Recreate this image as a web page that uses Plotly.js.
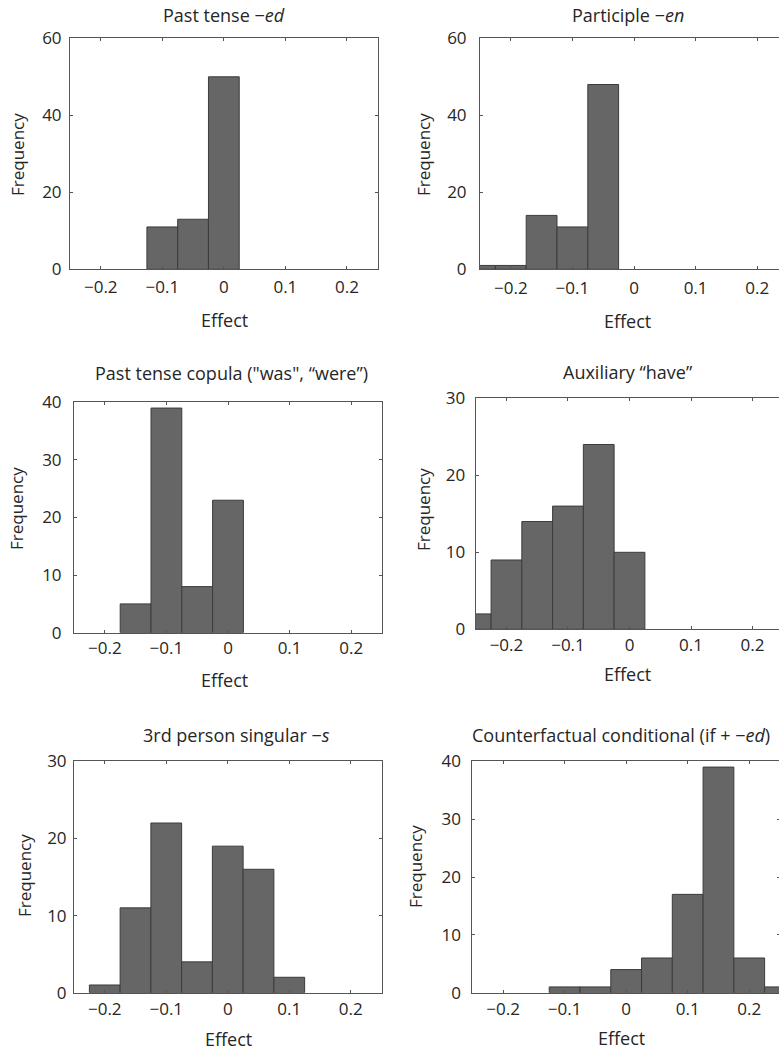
<!DOCTYPE html>
<html>
<head>
<meta charset="utf-8">
<script src="https://cdn.plot.ly/plotly-3.0.1.min.js"></script>
<style>
  html, body { margin: 0; padding: 0; overflow: hidden; background: #fff; }
  #chart { width: 790px; height: 1050px; }
</style>
</head>
<body>
<div id="chart"></div>
<script>
// ---- Data (bin centres of width 0.05, frequencies) ----
const pastTenseBins = [-0.1, -0.05, 0];
const pastTenseCounts = [11, 13, 50];

const participleBins = [-0.25, -0.2, -0.15, -0.1, -0.05];
const participleCounts = [1, 1, 14, 11, 48];

const copulaBins = [-0.15, -0.1, -0.05, 0];
const copulaCounts = [5, 39, 8, 23];

const auxHaveBins = [-0.25, -0.2, -0.15, -0.1, -0.05, 0];
const auxHaveCounts = [2, 9, 14, 16, 24, 10];

const thirdPersonBins = [-0.2, -0.15, -0.1, -0.05, 0, 0.05, 0.1];
const thirdPersonCounts = [1, 11, 22, 4, 19, 16, 2];

const counterfactualBins = [-0.1, -0.05, 0, 0.05, 0.1, 0.15, 0.2, 0.25];
const counterfactualCounts = [1, 1, 4, 6, 17, 39, 6, 1];

const panelTitles = [
  'Past tense −<i>ed</i>',
  'Participle −<i>en</i>',
  'Past tense copula ("was", “were”)',
  'Auxiliary “have”',
  '3rd person singular −<i>s</i>',
  'Counterfactual conditional (if + −<i>ed</i>)'
];
const yMax = [60, 60, 40, 30, 30, 40];
const yStep = [20, 20, 10, 10, 10, 10];
const xTickVals = [-0.2, -0.1, 0, 0.1, 0.2];

const series = [
  [pastTenseBins, pastTenseCounts],
  [participleBins, participleCounts],
  [copulaBins, copulaCounts],
  [auxHaveBins, auxHaveCounts],
  [thirdPersonBins, thirdPersonCounts],
  [counterfactualBins, counterfactualCounts]
];

// ---- Layout geometry (pixels) ----
const W = 790, H = 1050;
// [left, right, top, bottom]
const boxes = [
  [70, 377.7, 38.3, 269.3],
  [480, 788, 38.3, 269.3],
  [74, 382, 402.3, 632.7],
  [475.7, 783.3, 398.3, 629.3],
  [74, 381.5, 761.3, 992.7],
  [472.3, 780, 761.3, 992.7]
];
const yLabelGap = [4, 9, 8, 6, 3, 7];
const xLabelGap = [2, 3, 0, 0, 1, 1];
const titlePos = [[224, 15], [628, 15], [231, 373], [628, 372], [236, 735], [620.5, 735]];
const effectPos = [[224, 320], [627.5, 321], [224, 680], [627.5, 674], [228, 1039], [621.5, 1038]];
const freqPos = [[17, 155], [423, 155], [17, 509], [423, 510], [24, 876], [415, 867]];

const family = '"Open Sans", "Noto Sans", sans-serif';
const font = { family: family, size: 17, color: '#262626' };
const titleFont = { family: family, size: 18, color: '#262626' };
const axisColor = '#555555';

const data = [];
const layout = {
  width: W, height: H,
  margin: { l: 0, r: 0, t: 0, b: 0 },
  paper_bgcolor: '#ffffff',
  plot_bgcolor: '#ffffff',
  showlegend: false,
  font: font,
  annotations: []
};

series.forEach((s, i) => {
  const n = i === 0 ? '' : String(i + 1);
  data.push({
    type: 'bar',
    x: s[0], y: s[1],
    width: 0.05,
    xaxis: 'x' + n, yaxis: 'y' + n,
    marker: { color: '#666667', line: { color: '#3c3c3c', width: 1 } },
    hoverinfo: 'x+y'
  });
  const b = boxes[i];
  layout['xaxis' + n] = {
    domain: [b[0] / W, b[1] / W],
    anchor: 'y' + n,
    range: [-0.25, 0.25],
    tickmode: 'array', tickvals: xTickVals,
    ticks: 'inside', ticklen: 3, tickcolor: axisColor,
    ticklabelstandoff: xLabelGap[i],
    showline: true, linecolor: axisColor, linewidth: 1, mirror: 'ticks',
    showgrid: false, zeroline: false,
    tickfont: font, fixedrange: true
  };
  layout['yaxis' + n] = {
    domain: [1 - b[3] / H, 1 - b[2] / H],
    anchor: 'x' + n,
    range: [0, yMax[i]],
    dtick: yStep[i], tick0: 0,
    ticks: 'inside', ticklen: 3, tickcolor: axisColor,
    ticklabelstandoff: yLabelGap[i],
    showline: true, linecolor: axisColor, linewidth: 1, mirror: 'ticks',
    showgrid: false, zeroline: false,
    tickfont: font, fixedrange: true
  };
  layout.annotations.push({
    text: panelTitles[i], xref: 'paper', yref: 'paper',
    x: titlePos[i][0] / W, y: 1 - titlePos[i][1] / H,
    xanchor: 'center', yanchor: 'middle', showarrow: false, font: titleFont
  });
  layout.annotations.push({
    text: 'Effect', xref: 'paper', yref: 'paper',
    x: effectPos[i][0] / W, y: 1 - effectPos[i][1] / H,
    xanchor: 'center', yanchor: 'middle', showarrow: false, font: titleFont
  });
  layout.annotations.push({
    text: 'Frequency', xref: 'paper', yref: 'paper', textangle: -90,
    x: freqPos[i][0] / W, y: 1 - freqPos[i][1] / H,
    xanchor: 'center', yanchor: 'middle', showarrow: false, font: font
  });
});

Plotly.newPlot('chart', data, layout, { staticPlot: true, displayModeBar: false });
</script>
</body>
</html>
